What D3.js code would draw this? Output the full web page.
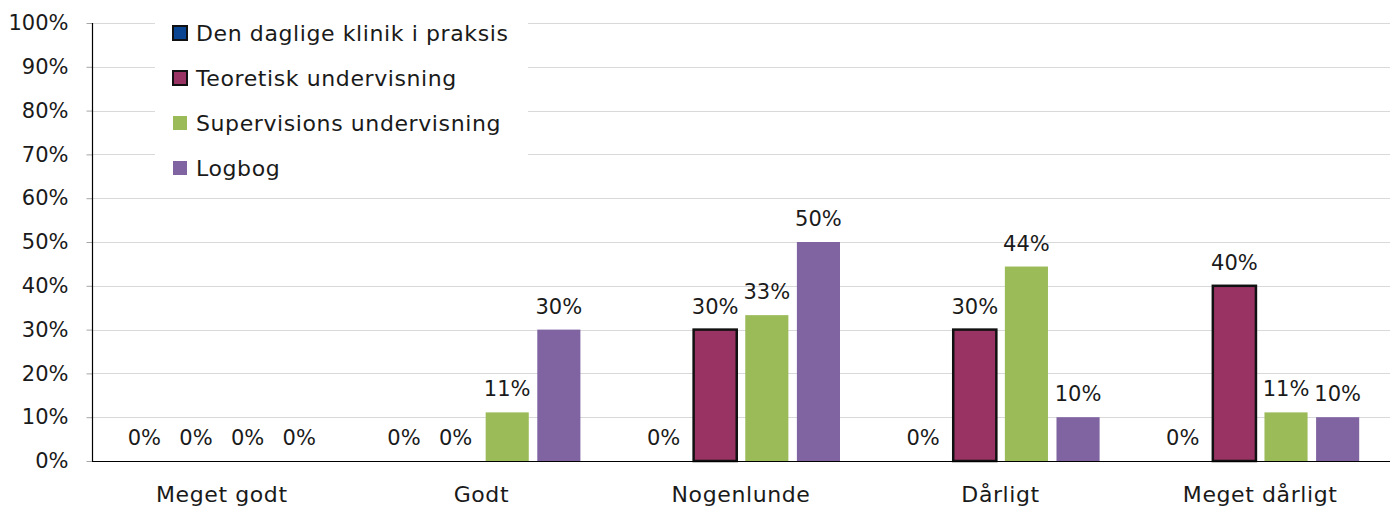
<!DOCTYPE html>
<html>
<head>
<meta charset="utf-8">
<script src="https://cdn.jsdelivr.net/npm/d3@7"></script>
<style>
  body { margin: 0; background: #fff; }
  text { font-family: "DejaVu Sans", sans-serif; fill: #1a1a1a; }
  .word { letter-spacing: 0.6px; }
</style>
</head>
<body>
<script>
// data
var categories = ["Meget godt", "Godt", "Nogenlunde", "Dårligt", "Meget dårligt"];
var seriesNames = ["Den daglige klinik i praksis", "Teoretisk undervisning", "Supervisions undervisning", "Logbog"];
var klinik = [0, 0, 0, 0, 0];
var teoretisk = [0, 0, 30, 30, 40];
var supervision = [0, 11.1, 33.3, 44.4, 11.1];
var logbog = [0, 30, 50, 10, 10];
var yTicks = [0, 10, 20, 30, 40, 50, 60, 70, 80, 90, 100];

var seriesValues = [klinik, teoretisk, supervision, logbog];
var colors = ["#0b4592", "#983363", "#9bbb59", "#8064a2"];
var outlined = [true, true, false, false];

var W = 1390, H = 508;
var mLeft = 92, mRight = 1390, mTop = 23, mBottom = 461;
var fs = "21px";

var svg = d3.select("body").append("svg")
    .attr("width", W)
    .attr("height", H);

var x = d3.scaleBand()
    .domain(categories)
    .range([mLeft, mRight])
    .padding(0);

var y = d3.scaleLinear()
    .domain([0, 100])
    .range([mBottom, mTop]);

// inner band for the 4 series
var xi = d3.scaleBand()
    .domain(d3.range(4))
    .range([0, 198])
    .paddingInner(0.165)
    .paddingOuter(0);

// gridlines
svg.append("g").selectAll("line")
    .data(yTicks.filter(function(d) { return d > 0; }))
    .enter()
    .append("line")
    .attr("x1", mLeft)
    .attr("x2", mRight)
    .attr("y1", function(d) { return Math.round(y(d)) + 0.5; })
    .attr("y2", function(d) { return Math.round(y(d)) + 0.5; })
    .attr("stroke", "#d9d9d9")
    .attr("stroke-width", 1);

// y axis
var yAxis = d3.axisLeft(y)
    .tickValues(yTicks)
    .tickFormat(function(d) { return d + "%"; })
    .tickSize(6)
    .tickPadding(18);

var gy = svg.append("g")
    .attr("transform", "translate(" + (mLeft + 0.5) + ",0)")
    .call(yAxis);
gy.select(".domain").remove();
gy.selectAll(".tick line").attr("stroke", "#a6a6a6");
gy.selectAll(".tick text")
    .attr("font-size", fs)
    .style("font-family", "'DejaVu Sans', sans-serif")
    .attr("fill", "#1a1a1a");
svg.append("line")
    .attr("x1", mLeft + 0.5).attr("x2", mLeft + 0.5)
    .attr("y1", mTop).attr("y2", mBottom)
    .attr("stroke", "#000").attr("stroke-width", 1.2);

// bars
var groups = svg.append("g").selectAll("g")
    .data(categories)
    .enter()
    .append("g")
    .attr("transform", function(d) {
        return "translate(" + (x(d) + x.bandwidth() / 2 - 99) + ",0)";
    });

function cells(d, ci) {
    return seriesValues.map(function(s, si) { return { s: si, v: s[ci] }; });
}

groups.selectAll("rect")
    .data(cells)
    .enter()
    .append("rect")
    .attr("x", function(d) { return xi(d.s); })
    .attr("y", function(d) { return y(d.v); })
    .attr("width", xi.bandwidth())
    .attr("height", function(d) { return mBottom - y(d.v); })
    .attr("fill", function(d) { return colors[d.s]; })
    .attr("stroke", function(d) { return outlined[d.s] && d.v > 0 ? "#111" : "none"; })
    .attr("stroke-width", 2.5);

groups.selectAll("text")
    .data(cells)
    .enter()
    .append("text")
    .attr("x", function(d) { return xi(d.s) + xi.bandwidth() / 2; })
    .attr("y", function(d) { return y(d.v) - 16; })
    .attr("text-anchor", "middle")
    .attr("font-size", fs)
    .text(function(d) { return Math.round(d.v) + "%"; });

// x axis
svg.append("line")
    .attr("x1", mLeft).attr("x2", mRight)
    .attr("y1", mBottom + 0.5).attr("y2", mBottom + 0.5)
    .attr("stroke", "#000").attr("stroke-width", 1.2);

svg.append("g").selectAll("text")
    .data(categories)
    .enter()
    .append("text")
    .attr("class", "word")
    .attr("x", function(d) { return x(d) + x.bandwidth() / 2; })
    .attr("y", 502)
    .attr("text-anchor", "middle")
    .attr("font-size", "22px")
    .text(function(d) { return d; });

// legend
var legend = svg.append("g");
legend.append("rect")
    .attr("x", 155).attr("y", 0)
    .attr("width", 373).attr("height", 190)
    .attr("fill", "#fff");

var items = legend.selectAll("g.item")
    .data(seriesNames)
    .enter()
    .append("g")
    .attr("class", "item")
    .attr("transform", function(d, i) { return "translate(173," + (33 + i * 45) + ")"; });

items.append("rect")
    .attr("x", 0).attr("y", -7)
    .attr("width", 14).attr("height", 14)
    .attr("fill", function(d, i) { return colors[i]; })
    .attr("stroke", function(d, i) { return outlined[i] ? "#111" : "none"; })
    .attr("stroke-width", 2);

items.append("text")
    .attr("class", "word")
    .attr("x", 23)
    .attr("y", 8)
    .attr("font-size", "22px")
    .text(function(d) { return d; });
</script>
</body>
</html>
